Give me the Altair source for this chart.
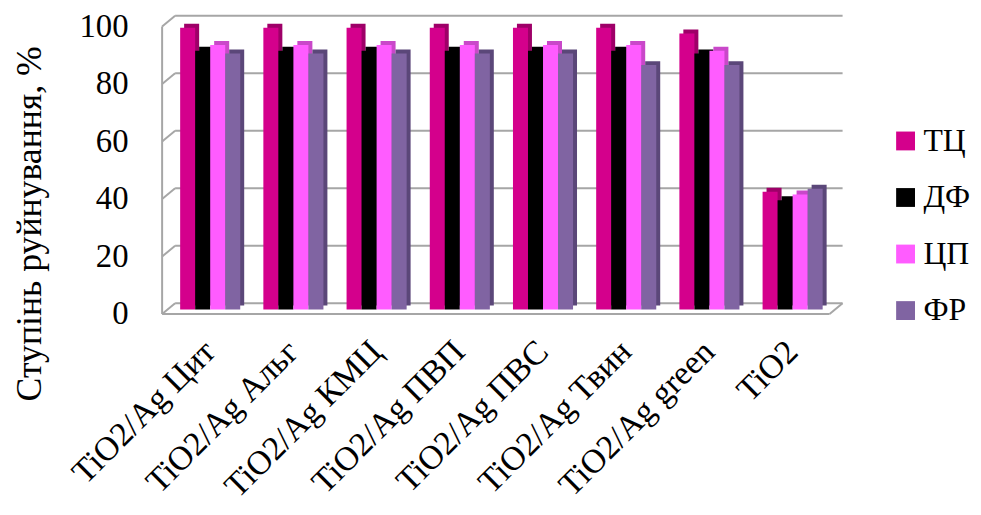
import altair as alt
import pandas as pd

categories = ["TiO2/Ag Цит", "TiO2/Ag Альг", "TiO2/Ag КМЦ", "TiO2/Ag ПВП",
              "TiO2/Ag ПВС", "TiO2/Ag Твин", "TiO2/Ag green", "TiO2"]
series = ["ТЦ", "ДФ", "ЦП", "ФР"]
tc = [98, 98, 98, 98, 98, 98, 96, 41]
dfv = [90, 90, 90, 90, 90, 90, 89, 38]
cp = [92, 92, 92, 92, 92, 92, 90, 40]
fr = [89, 89, 89, 89, 89, 85, 85, 42]
y_ticks = [0, 20, 40, 60, 80, 100]

colors = ["#D4008C", "#000000", "#FF5CFF", "#8064A2"]
side_colors = ["#9E0068", "#000000", "#C948C9", "#5B4779"]
FONT = "Liberation Serif, Times New Roman, serif"
GRID = "#A6A6A6"

rows = []
for s, vals in zip(series, [tc, dfv, cp, fr]):
    for c, v in zip(categories, vals):
        rows.append({"cat": c, "ser": s, "val": v})
data = pd.DataFrame(rows)
ticks = pd.DataFrame({"v": y_ticks})

W, H = 673, 290
BX, BY = 7.5, -6.3   # back plane offset
FX, FY = -5.6, 4.5   # front plane offset
D = 4                # bar depth

yscale = alt.Scale(domain=[0, 100], nice=False)
yaxis = alt.Axis(values=y_ticks, domain=False, ticks=False, grid=False,
                 labelFont=FONT, labelFontSize=33, labelColor="black", labelPadding=40,
                 labelOffset=FY,
                 title="Ступінь руйнування, %", titleFont=FONT, titleFontSize=36,
                 titleFontWeight="normal", titleColor="black", titleX=-128, titleY=203,
                 titleAlign="center", titleBaseline="alphabetic", titleAngle=270)

def Yv(field):
    return alt.Y(field, scale=yscale, axis=yaxis)

# back wall gridlines
grid = alt.Chart(ticks).mark_rule(color=GRID, strokeWidth=2, yOffset=BY).encode(
    y=Yv("v:Q"),
    x=alt.value(BX), x2=alt.value(W + BX),
)
# left wall diagonals
diag = alt.Chart(ticks).mark_rule(color=GRID, strokeWidth=2, yOffset=FY, y2Offset=BY).encode(
    y=Yv("v:Q"), y2="v:Q",
    x=alt.value(FX), x2=alt.value(BX),
)
left_front = alt.Chart(ticks).mark_rule(color=GRID, strokeWidth=2, yOffset=FY, y2Offset=FY).encode(
    y=Yv("min(v):Q"), y2="max(v):Q",
    x=alt.value(FX),
)
floor_front = alt.Chart(ticks).mark_rule(color=GRID, strokeWidth=2, yOffset=FY).encode(
    y=Yv("min(v):Q"),
    x=alt.value(FX), x2=alt.value(W + FX),
)
floor_right = alt.Chart(ticks).mark_rule(color=GRID, strokeWidth=2, yOffset=FY, y2Offset=BY).encode(
    y=Yv("min(v):Q"), y2="min(v):Q",
    x=alt.value(W + FX), x2=alt.value(W + BX),
)

pad_in, pad_out = 0.278, 0.15

side = alt.Chart(data).mark_bar(yOffset=-D).encode(
    x=alt.X("cat:N", sort=categories,
            scale=alt.Scale(domain=categories, range=[D, W + D], paddingInner=pad_in, paddingOuter=pad_out),
            axis=None),
    xOffset=alt.XOffset("ser:N", sort=series,
                        scale=alt.Scale(domain=series, paddingInner=0, paddingOuter=0)),
    y=Yv("val:Q"),
    color=alt.Color("ser:N", sort=series, scale=alt.Scale(domain=series, range=side_colors), legend=None),
)

main = alt.Chart(data).mark_bar().encode(
    x=alt.X("cat:N", sort=categories,
            scale=alt.Scale(domain=categories, range=[0, W], paddingInner=pad_in, paddingOuter=pad_out),
            axis=alt.Axis(title=None, labelAngle=-45, labelFont=FONT, labelFontSize=34,
                          labelColor="black", domain=False, ticks=False, labelPadding=25,
                          labelLimit=0, labelOffset=-12)),
    xOffset=alt.XOffset("ser:N", sort=series,
                        scale=alt.Scale(domain=series, paddingInner=0, paddingOuter=0)),
    y=Yv("val:Q"),
    color=alt.Color("ser:N", sort=series, scale=alt.Scale(domain=series, range=colors),
                    legend=alt.Legend(title=None, orient="none", legendX=728, legendY=104,
                                      symbolType="square", symbolSize=361, symbolStrokeWidth=0,
                                      labelFont=FONT, labelFontSize=32, labelColor="black",
                                      rowPadding=25, labelOffset=2, padding=0, labelLimit=0)),
)

chart = alt.layer(grid, diag, side, main, left_front, floor_front, floor_right).resolve_scale(
    x="independent", xOffset="independent", color="independent"
).properties(
    width=W, height=H,
    autosize=alt.AutoSizeParams(type="none"),
    padding={"left": 161, "top": 12, "right": 139, "bottom": 197},
).configure_view(stroke=None)

chart.save("out.html", embed_options={"renderer": "svg", "actions": False})
